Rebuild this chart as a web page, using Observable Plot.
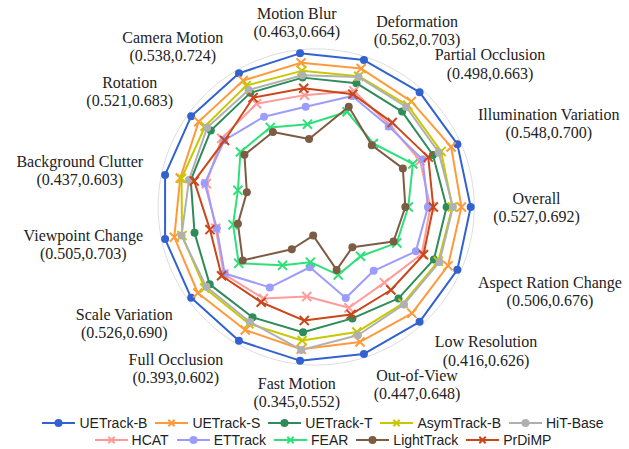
<!DOCTYPE html>
<html><head><meta charset="utf-8">
<script src="https://cdn.jsdelivr.net/npm/d3@7"></script>
<script src="https://cdn.jsdelivr.net/npm/@observablehq/plot@0.6"></script>
<style>
body{margin:0;background:#fff;width:629px;height:449px;overflow:hidden;}
#legend{font-family:"Liberation Sans",Arial,sans-serif;font-size:14px;color:#222;padding-left:17px;}
.row{display:flex;justify-content:center;align-items:center;height:17px;}
.item{display:flex;align-items:center;margin:0 4px;}
.item svg{margin-right:4px;}
</style></head><body><div id="chart"></div><div id="legend"></div>
<script>
// Axis labels (attributes) and their value ranges
const axes = ["Overall","Illumination Variation","Partial Occlusion","Deformation","Motion Blur","Camera Motion","Rotation","Background Clutter","Viewpoint Change","Scale Variation","Full Occlusion","Fast Motion","Out-of-View","Low Resolution","Aspect Ration Change"];
const ranges = ["(0.527,0.692)","(0.548,0.700)","(0.498,0.663)","(0.562,0.703)","(0.463,0.664)","(0.538,0.724)","(0.521,0.683)","(0.437,0.603)","(0.505,0.703)","(0.526,0.690)","(0.393,0.602)","(0.345,0.552)","(0.447,0.648)","(0.416,0.626)","(0.506,0.676)"];

const series = ["UETrack-B","UETrack-S","UETrack-T","AsymTrack-B","HiT-Base","HCAT","ETTrack","FEAR","LightTrack","PrDiMP"];

// Normalised scores per axis (best tracker = 100)
const uetrackB  = [100,100,100,100,100,100,100,100,100,100,100,100,100,100,100];
const uetrackS  = [94.0,95.6,92.0,94.2,93.9,94.5,94.0,90.0,93.9,94.7,91.9,92.6,91.8,92.6,93.4];
const uetrackT  = [84.4,82.7,83.1,84.3,84.2,85.3,84.3,83.0,80.5,85.2,82.4,81.5,75.8,79.6,83.4];
const asymTrack = [88.1,88.5,88.6,89.0,88.6,90.7,88.9,89.1,88.8,89.2,87.2,86.9,85.1,84.0,86.5];
const hitBase   = [88.5,86.8,87.1,88.5,85.7,87.5,87.3,84.2,89.1,87.9,85.9,93.0,87.3,84.9,87.4];
const hcat      = [73.9,73.6,71.2,79.0,72.8,77.2,75.6,72.7,66.5,73.9,68.3,58.3,68.6,65.9,74.8];
const ettrack   = [72.3,75.4,70.2,75.5,65.2,67.5,73.5,73.8,65.8,73.2,60.1,39.2,61.9,55.6,70.6];
const fear      = [59.6,68.5,55.3,64.8,53.9,59.5,60.6,51.8,55.0,62.0,43.6,35.9,46.2,42.9,57.1];
const lightTrack= [57.7,61.4,53.8,68.2,44.3,56.1,57.4,45.9,51.8,58.8,31.6,18.6,42.8,35.0,54.8];
const prdimp    = [75.8,79.4,73.5,76.8,77.3,81.7,73.3,80.7,70.3,75.7,71.2,73.9,73.1,72.3,76.0];

const values = [uetrackB,uetrackS,uetrackT,asymTrack,hitBase,hcat,ettrack,fear,lightTrack,prdimp];

// Styles
const colors = ["#3162cf","#ff9a3c","#2e8b5a","#c8c800","#b0b0b0","#ff9b9b","#9c9cff","#2fe07a","#7d5c43","#c9471b"];
const symbols = ["circle","times","circle","times","circle","times","circle","times","circle","times"];

// Layout
const W = 629, H = 414, CX = 315.7, CY = 206.5;
const rScale = d3.scaleLinear().domain([0, 100]).range([0, 154.5]);
const ringValue = 102.3;
const ang = i => i * 2 * Math.PI / axes.length;

const rows = [];
series.forEach((s, k) => values[k].forEach((v, i) => {
  const r = rScale(v);
  rows.push({series: s, k, axis: axes[i], value: v, x: r * Math.cos(ang(i)), y: r * Math.sin(ang(i))});
}));

const ring = d3.range(0, 360, 2).map(d => {
  const r = rScale(ringValue), a = d * Math.PI / 180;
  return {x: r * Math.cos(a), y: r * Math.sin(a)};
});

// label placement
const ctx = document.createElement("canvas").getContext("2d");
ctx.font = "16px 'Liberation Serif'";
const labels = axes.map((name, i) => {
  const a = ang(i), c = Math.cos(a), s = Math.sin(a);
  const R = Math.abs(s) > 0.8 ? 186 : 177;
  const dy = (Math.abs(s) > 0.3 && Math.abs(s) <= 0.8) ? 12 * Math.sign(s) : 0;
  const w = Math.max(ctx.measureText(name).width, ctx.measureText(ranges[i]).width);
  const hx = Math.abs(c) < 0.2 ? 0 : Math.sign(c) * w / 2;
  return {text: name + "\n" + ranges[i], x: R * c + hx, y: R * s + dy};
});

const marks = [Plot.line(ring, {x: "x", y: "y", curve: "linear-closed", stroke: "#dedede", strokeWidth: 1})];
series.forEach((s, k) => {
  const d = rows.filter(r => r.k === k);
  marks.push(Plot.line(d, {x: "x", y: "y", curve: "linear-closed", stroke: colors[k], strokeWidth: 2}));
  if (symbols[k] === "circle") {
    marks.push(Plot.dot(d, {x: "x", y: "y", r: 4, fill: colors[k], symbol: "circle"}));
  } else {
    marks.push(Plot.dot(d, {x: "x", y: "y", r: 4.2, stroke: colors[k], strokeWidth: 2, symbol: "times"}));
  }
});
marks.push(Plot.text(labels, {x: "x", y: "y", text: "text", textAnchor: "middle", lineAnchor: "middle", lineHeight: 1.15, fontSize: 16, fontFamily: "Liberation Serif", fill: "#222"}));

const chart = Plot.plot({
  width: W, height: H,
  margin: 0,
  x: {domain: [-CX, W - CX], range: [0, W], axis: null},
  y: {domain: [CY, CY - H], range: [0, H], axis: null},
  style: {background: "#fff"},
  marks
});
document.getElementById("chart").appendChild(chart);

// legend
const legend = document.getElementById("legend");
[[0,5],[5,10]].forEach(([a, b]) => {
  const row = document.createElement("div");
  row.className = "row";
  for (let k = a; k < b; k++) {
    const item = document.createElement("div");
    item.className = "item";
    const sym = symbols[k] === "circle"
      ? `<circle cx="16.5" cy="6" r="4" fill="${colors[k]}"/>`
      : `<path d="M13.3,2.8L19.7,9.2M19.7,2.8L13.3,9.2" stroke="${colors[k]}" stroke-width="2"/>`;
    item.innerHTML = `<svg width="33" height="12"><line x1="0" x2="33" y1="6" y2="6" stroke="${colors[k]}" stroke-width="2"/>${sym}</svg><span>${series[k]}</span>`;
    row.appendChild(item);
  }
  legend.appendChild(row);
});
</script></body></html>
